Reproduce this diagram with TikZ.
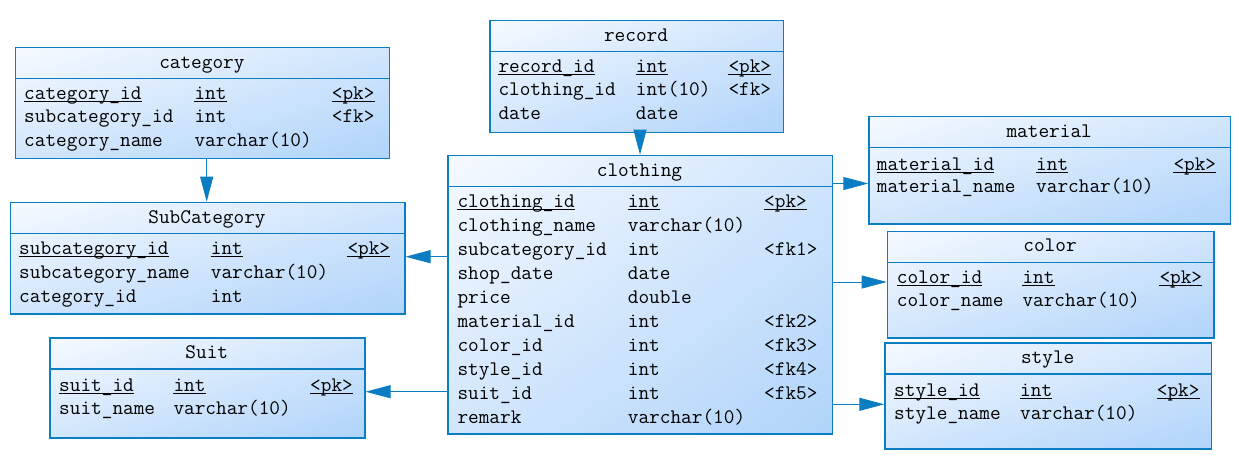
\documentclass[tikz,border=0pt]{standalone}
\usetikzlibrary{arrows.meta,shadings}
\definecolor{bc}{RGB}{10,125,195}
\definecolor{fTL}{RGB}{246,250,255}
\definecolor{fMID}{RGB}{210,230,252}
\definecolor{fBR}{RGB}{176,212,250}
\tikzset{
  tbl/.style={draw=bc, line width=1.2pt, anchor=north west, inner sep=0pt,
    upper left=fTL, upper right=fMID, lower left=fMID, lower right=fBR},
  hline/.style={draw=bc, line width=1.2pt},
  txt/.style={anchor=base west, inner sep=0pt, font=\fontsize{20.7}{24}\ttfamily, text=black},
  ttl/.style={anchor=base, inner sep=0pt, font=\fontsize{20.7}{24}\ttfamily, text=black},
  ulline/.style={draw=black, line width=0.9pt},
  conn/.style={draw=bc, line width=1pt, -{Triangle[length=25pt,width=13pt]}}
}
\newcommand\tx[4]{\node[txt] (#1) at (#2,#3) {#4};}
\newcommand\ulx[1]{\draw[ulline] ([yshift=-2.6pt]#1.base west) -- ([yshift=-2.6pt]#1.base east);}
\newcommand\hdr[1]{\draw[hline] ([yshift=-31.7pt]#1.north west) -- ([yshift=-31.7pt]#1.north east);}
\begin{document}
\begin{tikzpicture}[x=1pt,y=-1pt]
\useasboundingbox (0,0) rectangle (1239,461);

% ---------- category
\node[tbl, minimum width=373.7pt, minimum height=111.3pt] (category) at (15,46.7) {};
\hdr{category}
\node[ttl] (category-t) at (201.9,68) {category};
\tx{cat-a1}{24}{99.3}{category\_id}\tx{cat-b1}{194.3}{99.3}{int}\tx{cat-c1}{331.7}{99.3}{<pk>}
\ulx{cat-a1}\ulx{cat-b1}\ulx{cat-c1}
\tx{cat-a2}{24}{122.7}{subcategory\_id}\tx{cat-b2}{194.3}{122.7}{int}\tx{cat-c2}{331.7}{122.7}{<fk>}
\tx{cat-a3}{24}{146}{category\_name}\tx{cat-b3}{194.3}{146}{varchar(10)}

% ---------- SubCategory
\node[tbl, minimum width=394.6pt, minimum height=111.6pt] (sub) at (9.7,201.7) {};
\hdr{sub}
\node[ttl] (sub-t) at (207,223.3) {SubCategory};
\tx{sub-a1}{19}{254}{subcategory\_id}\tx{sub-b1}{210.7}{254}{int}\tx{sub-c1}{347.3}{254}{<pk>}
\ulx{sub-a1}\ulx{sub-b1}\ulx{sub-c1}
\tx{sub-a2}{19}{278}{subcategory\_name}\tx{sub-b2}{210.7}{278}{varchar(10)}
\tx{sub-a3}{19}{302}{category\_id}\tx{sub-b3}{210.7}{302}{int}

% ---------- record
\node[tbl, minimum width=293.4pt, minimum height=112pt] (record) at (489.3,19.7) {};
\hdr{record}
\node[ttl] (record-t) at (636,41) {record};
\tx{rec-a1}{498.3}{72.3}{record\_id}\tx{rec-b1}{635.7}{72.3}{int}\tx{rec-c1}{728.3}{72.3}{<pk>}
\ulx{rec-a1}\ulx{rec-b1}\ulx{rec-c1}
\tx{rec-a2}{498.3}{95.7}{clothing\_id}\tx{rec-b2}{635.7}{95.7}{int(10)}\tx{rec-c2}{728.3}{95.7}{<fk>}
\tx{rec-a3}{498.3}{119}{date}\tx{rec-b3}{635.7}{119}{date}

% ---------- clothing
\node[tbl, minimum width=384.4pt, minimum height=278.6pt] (clothing) at (447.3,154.7) {};
\hdr{clothing}
\node[ttl] (clothing-t) at (639.5,176) {clothing};
\tx{clo-a1}{457.3}{207.3}{clothing\_id}\tx{clo-b1}{627.7}{207.3}{int}\tx{clo-c1}{764}{207.3}{<pk>}
\ulx{clo-a1}\ulx{clo-b1}\ulx{clo-c1}
\tx{clo-a2}{457.3}{231.3}{clothing\_name}\tx{clo-b2}{627.7}{231.3}{varchar(10)}
\tx{clo-a3}{457.3}{255.2}{subcategory\_id}\tx{clo-b3}{627.7}{255.2}{int}\tx{clo-c3}{764}{255.2}{<fk1>}
\tx{clo-a4}{457.3}{279.2}{shop\_date}\tx{clo-b4}{627.7}{279.2}{date}
\tx{clo-a5}{457.3}{303.2}{price}\tx{clo-b5}{627.7}{303.2}{double}
\tx{clo-a6}{457.3}{327.1}{material\_id}\tx{clo-b6}{627.7}{327.1}{int}\tx{clo-c6}{764}{327.1}{<fk2>}
\tx{clo-a7}{457.3}{351.1}{color\_id}\tx{clo-b7}{627.7}{351.1}{int}\tx{clo-c7}{764}{351.1}{<fk3>}
\tx{clo-a8}{457.3}{375.1}{style\_id}\tx{clo-b8}{627.7}{375.1}{int}\tx{clo-c8}{764}{375.1}{<fk4>}
\tx{clo-a9}{457.3}{399}{suit\_id}\tx{clo-b9}{627.7}{399}{int}\tx{clo-c9}{764}{399}{<fk5>}
\tx{clo-a10}{457.3}{423}{remark}\tx{clo-b10}{627.7}{423}{varchar(10)}

% ---------- material
\node[tbl, minimum width=361.7pt, minimum height=107.3pt] (material) at (868.3,116) {};
\hdr{material}
\node[ttl] (material-t) at (1049.2,137.3) {material};
\tx{mat-a1}{876.7}{170}{material\_id}\tx{mat-b1}{1036}{170}{int}\tx{mat-c1}{1173.3}{170}{<pk>}
\ulx{mat-a1}\ulx{mat-b1}\ulx{mat-c1}
\tx{mat-a2}{876.7}{192.7}{material\_name}\tx{mat-b2}{1036}{192.7}{varchar(10)}

% ---------- color
\node[tbl, minimum width=326.6pt, minimum height=106.6pt] (color) at (886.7,230.7) {};
\hdr{color}
\node[ttl] (color-t) at (1050,251.7) {color};
\tx{col-a1}{896.7}{283.3}{color\_id}\tx{col-b1}{1022.3}{283.3}{int}\tx{col-c1}{1159.3}{283.3}{<pk>}
\ulx{col-a1}\ulx{col-b1}\ulx{col-c1}
\tx{col-a2}{896.7}{306.7}{color\_name}\tx{col-b2}{1022.3}{306.7}{varchar(10)}

% ---------- style
\node[tbl, minimum width=326.7pt, minimum height=106pt] (style) at (884.3,342.3) {};
\hdr{style}
\node[ttl] (style-t) at (1047.7,363.3) {style};
\tx{sty-a1}{894}{396}{style\_id}\tx{sty-b1}{1020}{396}{int}\tx{sty-c1}{1156.7}{396}{<pk>}
\ulx{sty-a1}\ulx{sty-b1}\ulx{sty-c1}
\tx{sty-a2}{894}{419}{style\_name}\tx{sty-b2}{1020}{419}{varchar(10)}

% ---------- Suit
\node[tbl, minimum width=315pt, minimum height=100pt] (suit) at (49.3,337.3) {};
\hdr{suit}
\node[ttl] (suit-t) at (206.8,358.3) {Suit};
\tx{suit-a1}{59}{391}{suit\_id}\tx{suit-b1}{173.3}{391}{int}\tx{suit-c1}{310}{391}{<pk>}
\ulx{suit-a1}\ulx{suit-b1}\ulx{suit-c1}
\tx{suit-a2}{59}{414.3}{suit\_name}\tx{suit-b2}{173.3}{414.3}{varchar(10)}

% ---------- connectors
\coordinate (ysub) at (0,256.7);
\coordinate (ysuit) at (0,391.7);
\coordinate (ymat) at (0,183.5);
\coordinate (ycol) at (0,282);
\coordinate (ysty) at (0,404.3);
\coordinate (xcat) at (206.7,0);
\coordinate (xrec) at (640,0);

\draw[conn] (category.south -| xcat) -- (sub.north -| xcat);
\draw[conn] (record.south -| xrec) -- (clothing.north -| xrec);
\draw[conn] (clothing.west |- ysub) -- (sub.east |- ysub);
\draw[conn] (clothing.west |- ysuit) -- (suit.east |- ysuit);
\draw[conn] (clothing.east |- ymat) -- (material.west |- ymat);
\draw[conn] (clothing.east |- ycol) -- (color.west |- ycol);
\draw[conn] (clothing.east |- ysty) -- (style.west |- ysty);
\end{tikzpicture}
\end{document}
